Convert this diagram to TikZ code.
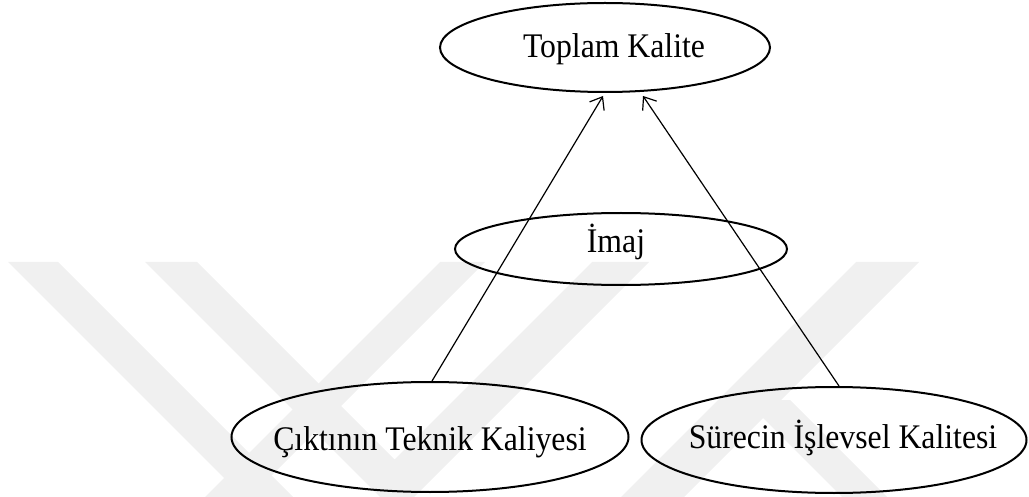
\documentclass[tikz,border=0pt]{standalone}
\usepackage{fontspec}
\setmainfont{Liberation Serif}[FakeStretch=0.92]
\usetikzlibrary{shapes.geometric,arrows.meta,calc}
\begin{document}
\begin{tikzpicture}[x=1pt,y=-1pt,
  oval/.style={draw, ellipse, line width=2pt, inner sep=0pt},
  lbl/.style={anchor=base, inner sep=0pt, font=\fontsize{34.5}{40}\selectfont},
  link/.style={line width=1.2pt, -{Straight Barb[length=11pt,width=17pt,line width=1.2pt]}},
  wm/.style={fill=black!6, draw=none}]
\useasboundingbox (0,0) rectangle (1029,497);
% faint watermark bands
\fill[wm] (8,262) -- (58,262) -- (293,497) -- (243,497) -- cycle;
\fill[wm] (145,262) -- (197,262) -- (394.5,459.5) -- (592,262) -- (649,262) -- (414,497) -- (380,497) -- cycle;
\fill[wm] (440,262) -- (485,262) -- (250,497) -- (205,497) -- cycle;
\fill[wm] (856,262) -- (919,262) -- (684,497) -- (621,497) -- cycle;
\fill[wm] (745,400) -- (790,400) -- (887,497) -- (842,497) -- cycle;
% ellipses
\node[oval, minimum width=330pt, minimum height=89pt] (tk) at (605,47.5) {};
\node[oval, minimum width=332pt, minimum height=72pt] (im) at (621,249) {};
\node[oval, minimum width=397pt, minimum height=110pt] (ct) at (430,437) {};
\node[oval, minimum width=385pt, minimum height=106pt] (sr) at (834,440) {};
% labels
\node[lbl] (tkt) at (614,58) {Toplam Kalite};
\node[lbl] (imt) at (616,253) {İmaj};
\node[lbl] (ctt) at (430,450) {Çıktının Teknik Kaliyesi};
\node[lbl] (srt) at (843,448) {Sürecin İşlevsel Kalitesi};
% connectors
\draw[link] ($(ct.north)+(2,0)$) -- ($(tk.south)+(-2,3)$);
\draw[link] ($(sr.north)+(5,0)$) -- ($(tk.south)+(38,3)$);
\end{tikzpicture}
\end{document}
